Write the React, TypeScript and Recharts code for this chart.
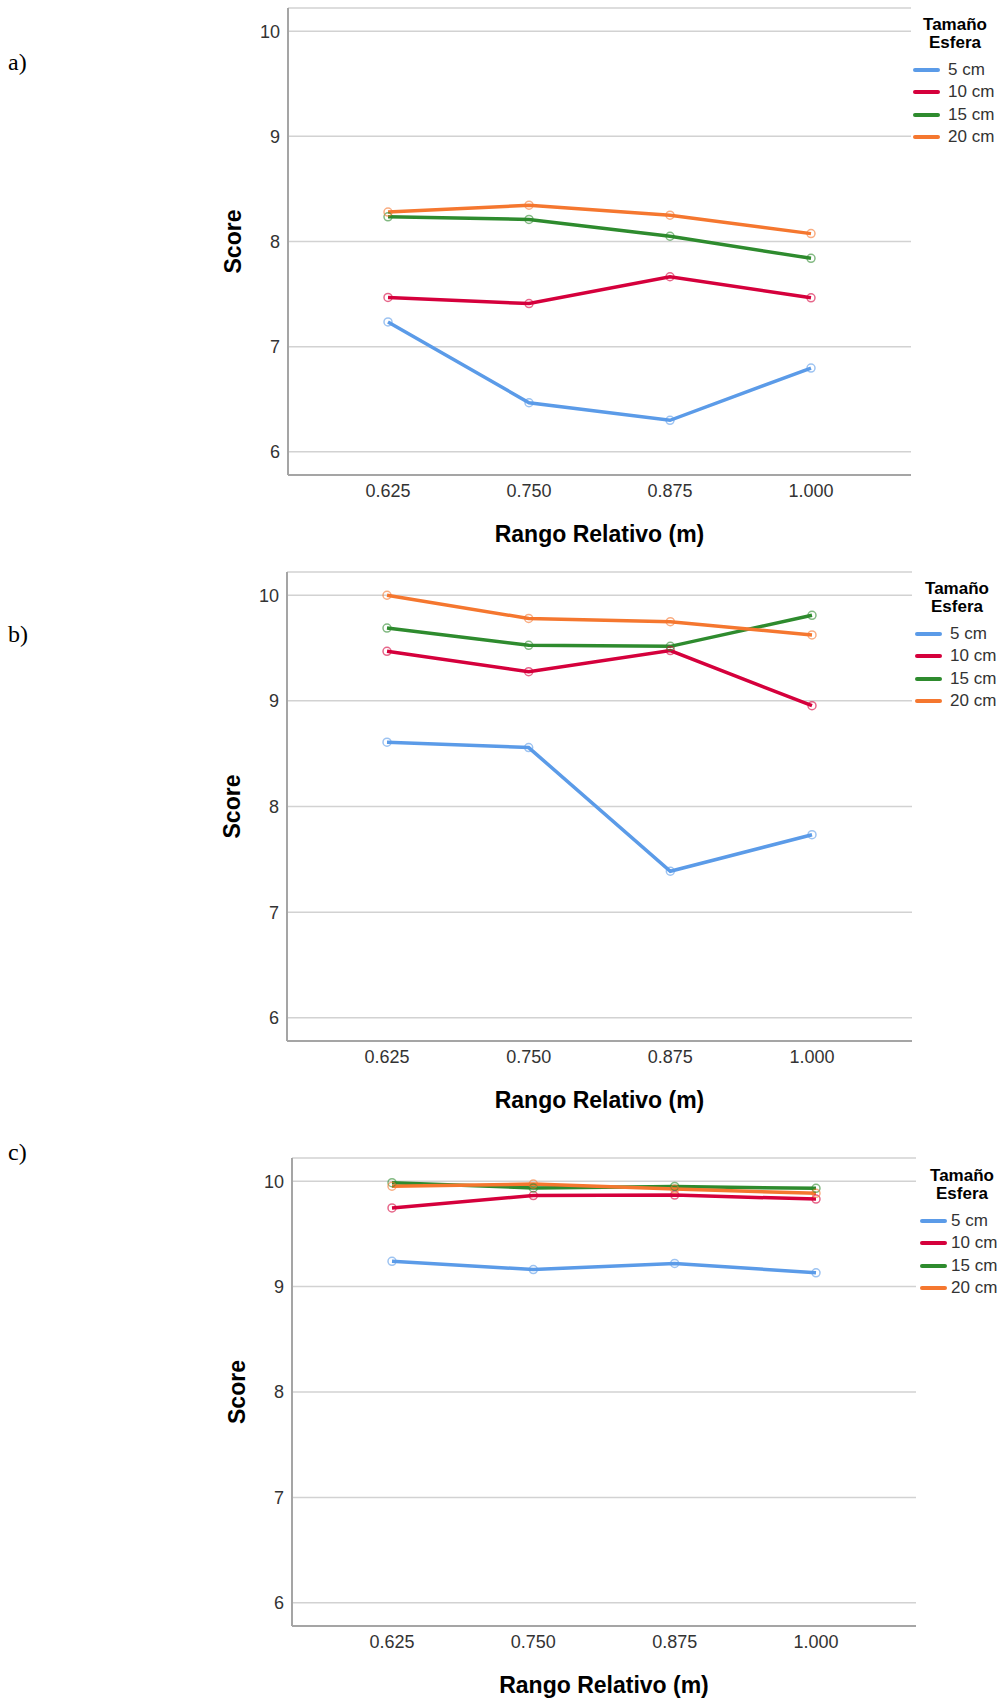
import React from 'react';
import { LineChart, Line, XAxis, YAxis, CartesianGrid, Legend } from 'recharts';

const FONT = '"Liberation Sans", Arial, Helvetica, sans-serif';

const categories = ['0.625', '0.750', '0.875', '1.000'];
const seriesNames = ['5 cm', '10 cm', '15 cm', '20 cm'];
const seriesColors = ['#5b9be8', '#d5003c', '#2e8b2e', '#f5772f'];
const yTicks = [6, 7, 8, 9, 10];

// panel a)
const a5 = [7.235, 6.467, 6.3, 6.797];
const a10 = [7.468, 7.41, 7.665, 7.465];
const a15 = [8.235, 8.21, 8.05, 7.84];
const a20 = [8.28, 8.345, 8.25, 8.075];

// panel b)
const b5 = [8.609, 8.558, 7.387, 7.733];
const b10 = [9.469, 9.276, 9.476, 8.954];
const b15 = [9.689, 9.526, 9.516, 9.81];
const b20 = [10.0, 9.78, 9.75, 9.624];

// panel c)
const c5 = [9.24, 9.162, 9.22, 9.131];
const c10 = [9.746, 9.864, 9.868, 9.83];
const c15 = [9.986, 9.936, 9.95, 9.932];
const c20 = [9.952, 9.973, 9.925, 9.885];

const buildRows = (series: number[][]) =>
  categories.map((cat, i) => {
    const row: Record<string, any> = { rango: cat };
    series.forEach((s, k) => {
      row[seriesNames[k]] = s[i];
    });
    return row;
  });

const SizeLegend = (props: any) => {
  const gap = props.gap ?? 8;
  // keep the series order, not the alphabetical one
  const payload = [...(props.payload || [])].sort(
    (p: any, q: any) => seriesNames.indexOf(p.value) - seriesNames.indexOf(q.value)
  );
  return (
    <div style={{ fontFamily: FONT, width: 100 }}>
      <div style={{ fontWeight: 'bold', fontSize: 17, lineHeight: '18px', textAlign: 'center', color: '#000' }}>
        Tamaño
        <br />
        Esfera
      </div>
      <div style={{ marginTop: 7 }}>
        {payload.map((p: any) => (
          <div key={p.value} style={{ display: 'flex', alignItems: 'center', height: 22.3, whiteSpace: 'nowrap' }}>
            <span style={{ marginLeft: 8, width: 27, height: 4, flex: 'none', background: p.color, borderRadius: 2 }} />
            <span style={{ marginLeft: gap, fontSize: 17, color: '#333' }}>{p.value}</span>
          </div>
        ))}
      </div>
    </div>
  );
};

type PanelProps = {
  rows: Record<string, any>[];
  top: number;
  height: number;
  left: number;
  right: number;
  legendLeft: number;
  legendTop: number;
  legendGap: number;
};

const Panel: React.FC<PanelProps> = ({ rows, top, height, left, right, legendLeft, legendTop, legendGap }) => (
  <div style={{ position: 'absolute', left: 0, top }}>
    <LineChart width={1000} height={height} data={rows} margin={{ top: 8, right, bottom: 0, left }}>
      <CartesianGrid vertical={false} stroke="#d2d2d2" strokeWidth={1.5} />
      <XAxis
        dataKey="rango"
        type="category"
        padding={{ left: 100, right: 100 }}
        height={72}
        tickLine={false}
        tickSize={6}
        tickMargin={3}
        axisLine={{ stroke: '#a5a5a5', strokeWidth: 2 }}
        tick={{ fontSize: 18, fill: '#333', fontFamily: FONT }}
        label={{
          value: 'Rango Relativo (m)',
          position: 'insideBottom',
          offset: 5,
          style: { fontSize: 23, fontWeight: 'bold', fill: '#000', fontFamily: FONT },
        }}
      />
      <YAxis
        type="number"
        domain={[5.78, 10.22]}
        ticks={yTicks}
        allowDataOverflow
        width={88}
        tickLine={false}
        tickSize={6}
        tickMargin={2}
        axisLine={{ stroke: '#a5a5a5', strokeWidth: 2 }}
        tick={{ fontSize: 18, fill: '#333', fontFamily: FONT }}
        label={{
          value: 'Score',
          angle: -90,
          position: 'insideLeft',
          offset: 33,
          style: { textAnchor: 'middle', fontSize: 23, fontWeight: 'bold', fill: '#000', fontFamily: FONT },
        }}
      />
      <Legend
        layout="vertical"
        align="center"
        verticalAlign="middle"
        content={<SizeLegend gap={legendGap} />}
        wrapperStyle={{ left: legendLeft, top: legendTop, width: 100 }}
      />
      {seriesNames.map((name, k) => (
        <Line
          key={name}
          type="linear"
          dataKey={name}
          name={name}
          stroke={seriesColors[k]}
          strokeWidth={3.5}
          dot={{ r: 4, fill: 'none', strokeWidth: 1.5, strokeOpacity: 0.6 }}
          activeDot={false}
          isAnimationActive={false}
        />
      ))}
    </LineChart>
  </div>
);

const letterStyle: React.CSSProperties = {
  position: 'absolute',
  left: 8,
  fontFamily: '"Liberation Serif", "Times New Roman", serif',
  fontSize: 24,
  lineHeight: '24px',
  color: '#000',
};

export default function App() {
  return (
    <div style={{ position: 'absolute', left: 0, top: 0, width: 1000, height: 1699, background: '#fff', overflow: 'hidden' }}>
      <div style={{ ...letterStyle, top: 50 }}>a)</div>
      <div style={{ ...letterStyle, top: 622 }}>b)</div>
      <div style={{ ...letterStyle, top: 1140 }}>c)</div>
      <Panel rows={buildRows([a5, a10, a15, a20])} top={0} height={547} left={200} right={89} legendLeft={905} legendTop={16} legendGap={8} />
      <Panel rows={buildRows([b5, b10, b15, b20])} top={564} height={549} left={199} right={88} legendLeft={907} legendTop={16} legendGap={8} />
      <Panel rows={buildRows([c5, c10, c15, c20])} top={1150} height={548} left={204} right={84} legendLeft={912} legendTop={17} legendGap={4} />
    </div>
  );
}
